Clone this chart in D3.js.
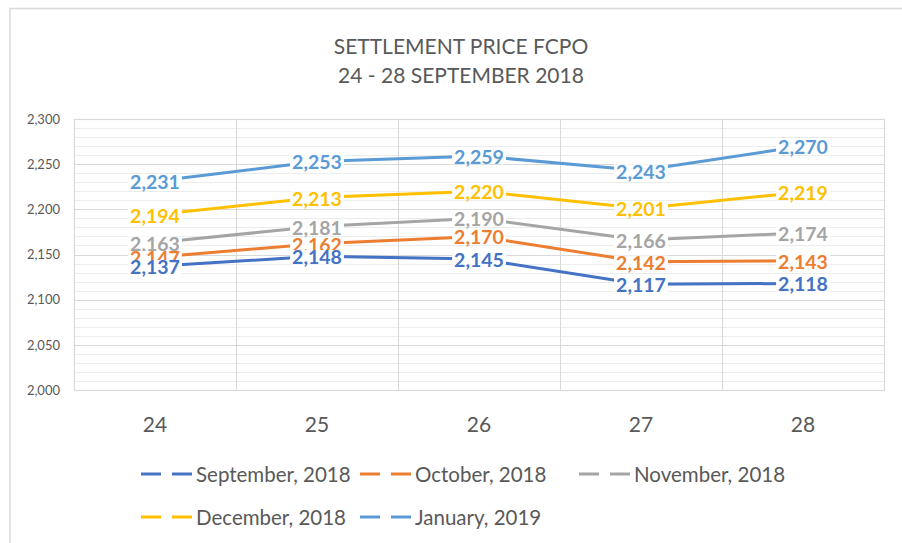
<!DOCTYPE html>
<html><head><meta charset="utf-8">
<script src="https://cdn.jsdelivr.net/npm/d3@7"></script>
<style>body{margin:0;background:#fff}svg{display:block;font-family:Lato,"Open Sans",sans-serif}</style>
</head><body><svg id="c" width="902" height="543"></svg>
<script>
const categories = ["24","25","26","27","28"];
const seriesNames = ["September, 2018","October, 2018","November, 2018","December, 2018","January, 2019"];
const sep = [2137,2148,2145,2117,2118];
const oct = [2147,2162,2170,2142,2143];
const nov = [2163,2181,2190,2166,2174];
const dec = [2194,2213,2220,2201,2219];
const jan = [2231,2253,2259,2243,2270];
const yTicks = [2000,2050,2100,2150,2200,2250,2300];
const colors = ["#4472C4","#ED7D31","#A5A5A5","#FFC000","#5B9BD5"];
const titleLines = ["SETTLEMENT PRICE FCPO","24 - 28 SEPTEMBER 2018"];

const series = [sep,oct,nov,dec,jan].map((v,i)=>({name:seriesNames[i],values:v,color:colors[i]}));
const svg = d3.select("#c");
const L=74,R=884,T=119,B=390;
const x = d3.scaleBand().domain(categories).range([L,R]).padding(0);
const cx = d => x(d)+x.bandwidth()/2;
const y = d3.scaleLinear().domain([2000,2300]).range([B,T]);

svg.append("rect").attr("width",902).attr("height",543).attr("fill","#fff");
svg.append("rect").attr("x",10).attr("y",8.5).attr("width",1000).attr("height",1000)
  .attr("fill","none").attr("stroke","#d9d9d9").attr("stroke-width",1.5);

// title
const tt = svg.append("g");
titleLines.forEach((t,i)=>tt.append("text").attr("x",461).attr("y",45+i*29)
  .attr("text-anchor","middle").attr("dominant-baseline","central")
  .attr("fill","#595959").attr("font-size",21).text(t));

// minor grid
svg.append("g").selectAll("line").data(d3.range(2000,2301,10)).join("line")
  .attr("x1",L).attr("x2",R).attr("y1",d=>Math.round(y(d))+0.5).attr("y2",d=>Math.round(y(d))+0.5)
  .attr("stroke","#ececec").attr("stroke-width",1);
// major grid
svg.append("g").selectAll("line").data(yTicks).join("line")
  .attr("x1",L).attr("x2",R).attr("y1",d=>Math.round(y(d))+0.5).attr("y2",d=>Math.round(y(d))+0.5)
  .attr("stroke","#d9d9d9").attr("stroke-width",1);
// vertical grid
svg.append("g").selectAll("line").data(categories.slice(1)).join("line")
  .attr("x1",d=>Math.round(x(d))+0.5).attr("x2",d=>Math.round(x(d))+0.5).attr("y1",T).attr("y2",B)
  .attr("stroke","#d9d9d9").attr("stroke-width",1);
svg.append("rect").attr("x",L+0.5).attr("y",T+0.5).attr("width",R-L).attr("height",B-T)
  .attr("fill","none").attr("stroke","#d9d9d9").attr("stroke-width",1.2);

// y axis
const ya = svg.append("g").attr("transform",`translate(${L-14},0)`)
  .call(d3.axisLeft(y).tickValues(yTicks).tickSize(0).tickPadding(0).tickFormat(d3.format(",")));
ya.select(".domain").remove();
ya.selectAll("text").attr("fill","#595959").attr("font-size",13).attr("font-family","Lato");

// x axis
const xa = svg.append("g").attr("transform",`translate(0,${B})`)
  .call(d3.axisBottom(x).tickSize(0).tickPadding(0));
xa.select(".domain").remove();
xa.selectAll("text").attr("fill","#595959").attr("font-size",21).attr("font-family","Lato")
  .attr("dy",null).attr("y",33).attr("dominant-baseline","central");

// lines
const line = d3.line().x((d,i)=>cx(categories[i])).y(d=>y(d));
svg.append("g").selectAll("path").data(series).join("path")
  .attr("d",d=>line(d.values)).attr("fill","none").attr("stroke",d=>d.color)
  .attr("stroke-width",3).attr("stroke-linejoin","round").attr("stroke-linecap","round");

// labels (drawn in reverse so September is on top)
const fmt = d3.format(",");
const fs = 19.5;
const lg = svg.append("g");
series.slice().reverse().forEach(s=>{
  s.values.forEach((v,i)=>{
    const g = lg.append("g").attr("transform",`translate(${cx(categories[i])},${y(v)+1})`);
    const t = g.append("text").attr("text-anchor","middle").attr("y",fs*0.36)
      .attr("font-weight","bold").attr("font-size",fs).attr("fill",s.color).text(fmt(v));
    const bb = t.node().getBBox();
    g.insert("rect","text").attr("x",bb.x-2).attr("y",-fs*0.37).attr("width",bb.width+4)
      .attr("height",fs*0.74).attr("fill","#fff");
  });
});

// legend
const legendPos = [[141,474],[360,474],[579,474],[141,517],[360,517]];
series.forEach((s,i)=>{
  const [lx,ly] = legendPos[i];
  const g = svg.append("g").attr("transform",`translate(${lx},${ly})`);
  g.append("line").attr("x1",0).attr("x2",20).attr("y1",0).attr("y2",0).attr("stroke",s.color).attr("stroke-width",3);
  g.append("line").attr("x1",31).attr("x2",51).attr("y1",0).attr("y2",0).attr("stroke",s.color).attr("stroke-width",3);
  g.append("text").attr("x",55).attr("y",0).attr("dominant-baseline","central")
    .attr("fill","#595959").attr("font-size",20.5).text(s.name);
});
</script></body></html>
